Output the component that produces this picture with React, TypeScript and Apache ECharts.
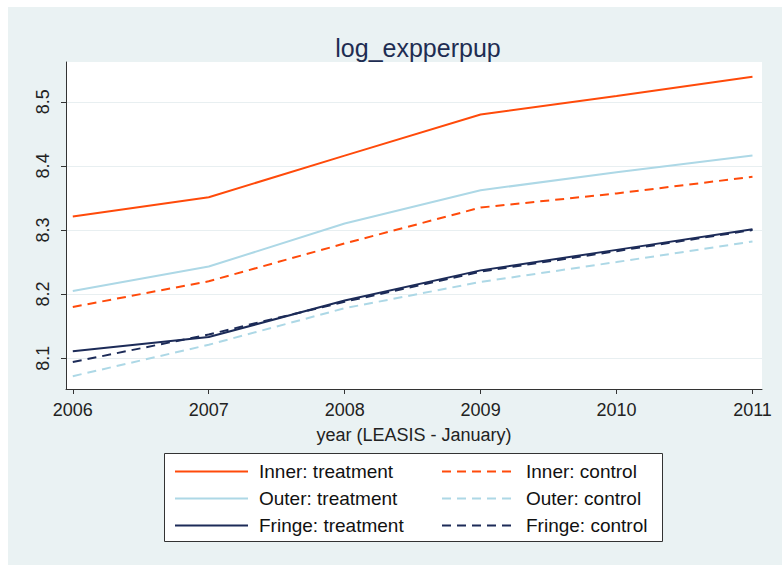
import React, { useEffect, useRef } from "react";
import * as echarts from "echarts";

const years = [2006, 2007, 2008, 2009, 2010, 2011];
const innerTreatment = [8.321, 8.351, 8.416, 8.48, 8.509, 8.539];
const innerControl = [8.18, 8.22, 8.279, 8.335, 8.357, 8.383];
const outerTreatment = [8.205, 8.243, 8.31, 8.362, 8.39, 8.416];
const outerControl = [8.072, 8.121, 8.178, 8.219, 8.25, 8.282];
const fringeTreatment = [8.111, 8.133, 8.19, 8.237, 8.269, 8.301];
const fringeControl = [8.094, 8.137, 8.188, 8.235, 8.267, 8.3];
const yTicks = [8.1, 8.2, 8.3, 8.4, 8.5];
const xTicks = years;

const FONT = "'Liberation Sans', Arial, Helvetica, sans-serif";
const ORANGE = "#FF4A0A";
const LIGHTBLUE = "#ADD8E6";
const NAVY = "#1C2B58";

export default function App() {
  const ref = useRef<HTMLDivElement>(null);
  useEffect(() => {
    const chart = echarts.init(ref.current!, null, { renderer: "svg" });
    const mk = (name: string, data: number[], color: string, dashed: boolean) => ({
      name,
      type: "line",
      data: years.map((y, i) => [y, data[i]]),
      symbol: "none",
      color,
      lineStyle: { color, width: 2, type: dashed ? [9, 6] : "solid" },
      itemStyle: { color },
    });
    const legendBase = {
      orient: "vertical",
      top: 462,
      itemWidth: 73,
      itemHeight: 19,
      itemGap: 8,
      padding: 0,
      itemStyle: { opacity: 0, borderWidth: 0 },
      textStyle: { fontFamily: FONT, fontSize: 19, color: "#111", padding: [0, 0, 0, 6] },
      selectedMode: false,
    };
    chart.setOption({
      animation: false,
      backgroundColor: "#EAF2F3",
      title: {
        text: "log_expperpup",
        left: 413,
        textAlign: "center",
        top: 30,
        textStyle: { fontFamily: FONT, fontSize: 25, fontWeight: "normal", color: "#1E2D52" },
      },
      graphic: [
        { type: "rect", z: -10, shape: { x: 0, y: 0, width: 782, height: 7 }, style: { fill: "#fff" } },
        { type: "rect", z: -10, shape: { x: 0, y: 0, width: 8, height: 565 }, style: { fill: "#fff" } },
        {
          type: "rect",
          z: 1,
          shape: { x: 164.5, y: 453.5, width: 498, height: 88 },
          style: { fill: "#fff", stroke: "#333", lineWidth: 1 },
        },
      ],
      grid: {
        left: 66,
        right: 20,
        top: 62,
        bottom: 176,
        show: true,
        backgroundColor: "#fff",
        borderWidth: 0,
      },
      xAxis: {
        type: "value",
        min: 2005.95,
        max: 2011.07,
        name: "year (LEASIS - January)",
        nameLocation: "middle",
        nameGap: 37,
        nameTextStyle: { fontFamily: FONT, fontSize: 18, color: "#222" },
        axisLine: { show: true, lineStyle: { color: "#333", width: 1 } },
        axisTick: { show: true, length: 5, lineStyle: { color: "#333" }, customValues: xTicks },
        axisLabel: {
          fontFamily: FONT,
          fontSize: 18,
          color: "#222",
          margin: 12,
          customValues: xTicks,
          formatter: (v: number) => String(Math.round(v)),
        },
        splitLine: { show: false },
      },
      yAxis: {
        type: "value",
        min: 8.052,
        max: 8.562,
        axisLine: { show: true, lineStyle: { color: "#333", width: 1 } },
        axisTick: { show: true, length: 5, lineStyle: { color: "#333" }, customValues: yTicks },
        axisLabel: {
          fontFamily: FONT,
          fontSize: 18,
          color: "#222",
          rotate: 90,
          margin: 14,
          customValues: yTicks,
          formatter: (v: number) => v.toFixed(1),
        },
        splitLine: { show: true, lineStyle: { color: "#E8EFF1", width: 1 } },
      },
      legend: [
        {
          ...legendBase,
          data: ["Inner: treatment", "Outer: treatment", "Fringe: treatment"],
          left: 174,
        },
        {
          ...legendBase,
          data: ["Inner: control", "Outer: control", "Fringe: control"],
          left: 441,
        },
      ],
      series: [
        mk("Outer: control", outerControl, LIGHTBLUE, true),
        mk("Outer: treatment", outerTreatment, LIGHTBLUE, false),
        mk("Inner: control", innerControl, ORANGE, true),
        mk("Inner: treatment", innerTreatment, ORANGE, false),
        mk("Fringe: control", fringeControl, NAVY, true),
        mk("Fringe: treatment", fringeTreatment, NAVY, false),
      ],
    });
    return () => chart.dispose();
  }, []);
  return <div ref={ref} style={{ position: "fixed", left: 0, top: 0, width: 782, height: 565 }} />;
}
